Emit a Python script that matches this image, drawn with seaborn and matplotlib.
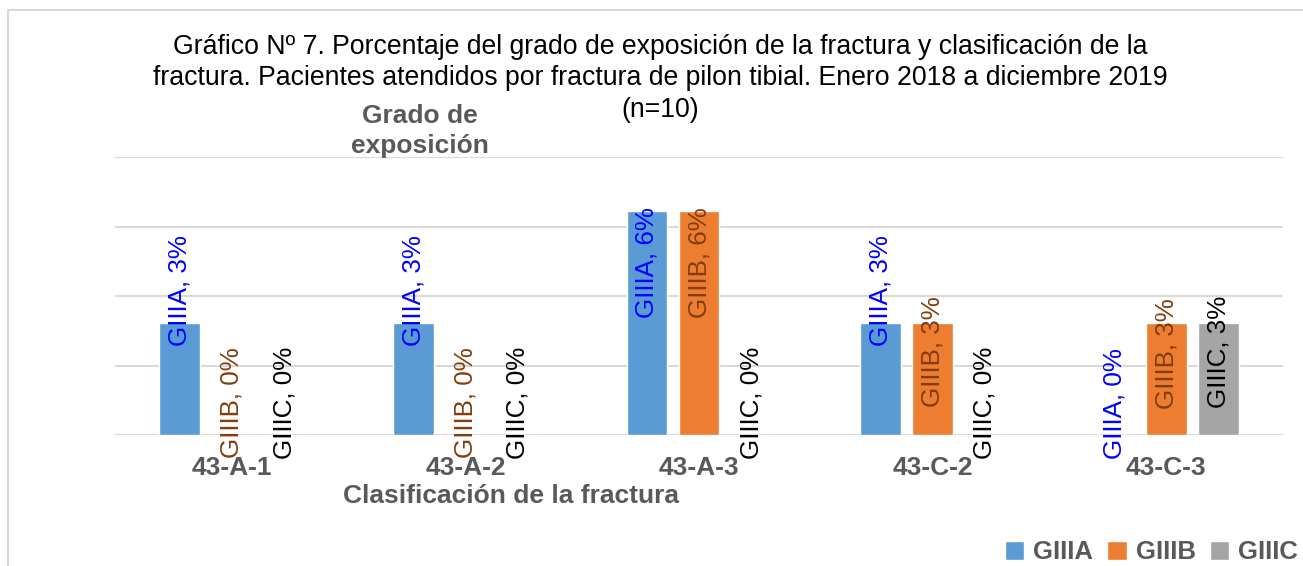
import pandas as pd
import seaborn as sns
import matplotlib.pyplot as plt
from matplotlib.lines import Line2D

# data (percent of 31 cases)
categories = ["43-A-1", "43-A-2", "43-A-3", "43-C-2", "43-C-3"]
grades = ["GIIIA", "GIIIB", "GIIIC"]
giiia = [3.23, 3.23, 6.45, 3.23, 0.0]
giiib = [0.0, 0.0, 6.45, 3.23, 3.23]
giiic = [0.0, 0.0, 0.0, 0.0, 3.23]
title_lines = [
    "Gráfico Nº 7. Porcentaje del grado de exposición de la fractura y clasificación de la",
    "fractura. Pacientes atendidos por fractura de pilon tibial. Enero 2018 a diciembre 2019",
    "(n=10)",
]

df = pd.DataFrame({
    "clasificacion": categories * 3,
    "grado": [g for g in grades for _ in categories],
    "pct": giiia + giiib + giiic,
})

sns.set_style("white")
plt.rcParams["font.family"] = ["Liberation Sans", "DejaVu Sans"]

bar_colors = ["#5B9BD5", "#ED7D31", "#A5A5A5"]
label_colors = ["#0000FF", "#843C0C", "#000000"]
gray = "#595959"

fig = plt.figure(figsize=(13.03, 5.66), dpi=100)
ax = fig.add_axes([0.0883, 0.2314, 0.8964, 0.4912])

sns.barplot(data=df, x="clasificacion", y="pct", hue="grado",
            order=categories, hue_order=grades, palette=bar_colors,
            saturation=1, width=0.67, gap=0.22, ax=ax)

ax.set_ylim(0, 8)
ax.set_yticks([0, 2, 4, 6, 8])
ax.set_yticklabels([])
ax.yaxis.grid(True, color="#D9D9D9", lw=1.5)
ax.set_axisbelow(True)
for s in ax.spines.values():
    s.set_visible(False)
ax.tick_params(axis="both", length=0)
ax.tick_params(axis="x", pad=15)
ax.set_xlabel("")
ax.set_ylabel("")
for t in ax.get_xticklabels():
    t.set_fontsize(19)
    t.set_fontweight("bold")
    t.set_color(gray)

# label offsets (points): default above, some inside the bar
inside = {("GIIIA", "43-A-3"): -37, ("GIIIB", "43-A-3"): -37,
          ("GIIIB", "43-C-2"): -21, ("GIIIB", "43-C-3"): -22,
          ("GIIIC", "43-C-3"): -21}
for gi, cont in enumerate(ax.containers):
    for ci, bar in enumerate(cont):
        h = bar.get_height()
        dy = inside.get((grades[gi], categories[ci]), 23)
        ax.annotate(f"{grades[gi]}, {h:.0f}%",
                    (bar.get_x() + bar.get_width() / 2, h),
                    xytext=(0, dy), textcoords="offset points",
                    rotation=90, ha="center", va="center",
                    fontsize=18.7, color=label_colors[gi], annotation_clip=False)

sns.move_legend(ax, "center right", bbox_to_anchor=(0.996, 0.024),
                bbox_transform=fig.transFigure, ncol=3, frameon=False,
                title=None, fontsize=18.5, handlelength=0.75, handleheight=0.75,
                handletextpad=0.35, columnspacing=0.55,
                borderpad=0, borderaxespad=0)
for t in ax.get_legend().get_texts():
    t.set_fontweight("bold")
    t.set_color(gray)

# title, one text per line
for y, line in zip([0.917, 0.862, 0.806], title_lines):
    fig.text(0.5065, y, line, ha="center", va="center", fontsize=19.2, color="black")
fig.text(0.3225, 0.7686, "Grado de\nexposición", ha="center", va="center",
         fontsize=19, fontweight="bold", color=gray, linespacing=1.3)
fig.text(0.392, 0.124, "Clasificación de la fractura", ha="center", va="center",
         fontsize=19, fontweight="bold", color=gray)

# outer frame (left and top edges)
fig.add_artist(Line2D([0.0058, 0.0058], [0, 0.9823], color="#D9D9D9", lw=1.5))
fig.add_artist(Line2D([0.0058, 1.0], [0.9823, 0.9823], color="#D9D9D9", lw=1.5))

plt.savefig("out.png", dpi=100)
